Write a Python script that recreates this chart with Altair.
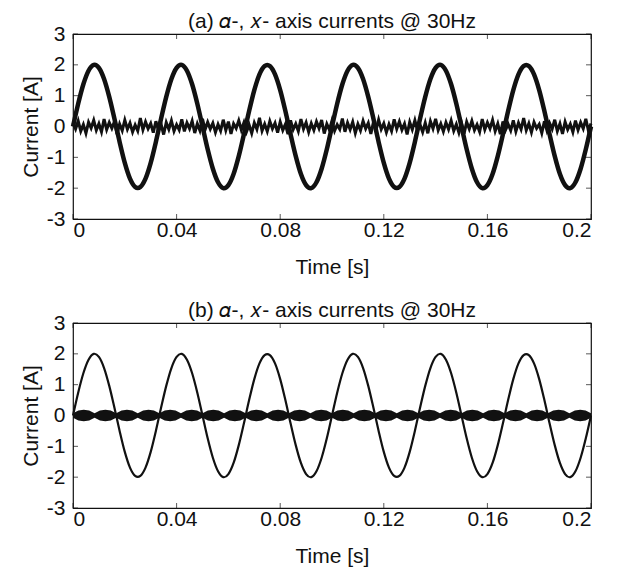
import altair as alt
import pandas as pd

# ---------------- data ----------------
TIME_STEP = 0.002          # sampling step of the alpha current (s)
NOISE_STEP = 0.001         # sampling step of the x-axis current in panel (a) (s)
ENV_STEP = 1.0 / 480.0     # sampling step of the envelope in panel (b) (s)

alpha_current = [
    0.00, 0.74, 1.37, 1.81, 2.00, 1.90, 1.54, 0.96, 0.25, -0.50,
    -1.18, -1.69, -1.96, -1.96, -1.69, -1.18, -0.50, 0.25, 0.96, 1.54,
    1.90, 2.00, 1.81, 1.37, 0.74, 0.00, -0.74, -1.37, -1.81, -2.00,
    -1.90, -1.54, -0.96, -0.25, 0.50, 1.18, 1.69, 1.96, 1.96, 1.69,
    1.18, 0.50, -0.25, -0.96, -1.54, -1.90, -2.00, -1.81, -1.37, -0.74,
    0.00, 0.74, 1.37, 1.81, 2.00, 1.90, 1.54, 0.96, 0.25, -0.50,
    -1.18, -1.69, -1.96, -1.96, -1.69, -1.18, -0.50, 0.25, 0.96, 1.54,
    1.90, 2.00, 1.81, 1.37, 0.74, 0.00, -0.74, -1.37, -1.81, -2.00,
    -1.90, -1.54, -0.96, -0.25, 0.50, 1.18, 1.69, 1.96, 1.96, 1.69,
    1.18, 0.50, -0.25, -0.96, -1.54, -1.90, -2.00, -1.81, -1.37, -0.74,
    0.00,
]

x_current_a = [
    0.12, -0.08, 0.18, -0.15, 0.06, -0.22, 0.14, -0.05, 0.20, -0.12,
    0.09, -0.17, 0.24, -0.10, 0.13, -0.06, 0.16, -0.25, 0.08, -0.13,
    0.21, -0.09, 0.11, -0.18, 0.05, -0.14, 0.27, -0.11, 0.15, -0.07,
    0.10, -0.20, 0.17, -0.12, 0.08, -0.26, 0.13, -0.09, 0.19, -0.15,
    0.06, -0.11, 0.23, -0.16, 0.12, -0.07, 0.18, -0.21, 0.09, -0.13,
    0.25, -0.10, 0.14, -0.08, 0.11, -0.19, 0.07, -0.14, 0.22, -0.12,
    0.16, -0.24, 0.09, -0.06, 0.19, -0.11, 0.13, -0.17, 0.05, -0.22,
    0.12, -0.09, 0.28, -0.14, 0.08, -0.16, 0.17, -0.07, 0.11, -0.20,
    0.15, -0.12, 0.07, -0.25, 0.20, -0.10, 0.09, -0.15, 0.24, -0.08,
    0.13, -0.18, 0.10, -0.12, 0.16, -0.06, 0.21, -0.23, 0.08, -0.11,
    0.19, -0.14, 0.06, -0.09, 0.26, -0.17, 0.12, -0.10, 0.15, -0.21,
    0.08, -0.13, 0.18, -0.07, 0.11, -0.24, 0.14, -0.12, 0.22, -0.09,
    0.10, -0.19, 0.07, -0.15, 0.23, -0.08, 0.16, -0.11, 0.09, -0.26,
    0.14, -0.10, 0.20, -0.13, 0.06, -0.18, 0.12, -0.22, 0.17, -0.07,
    0.25, -0.12, 0.09, -0.16, 0.13, -0.09, 0.19, -0.14, 0.07, -0.20,
    0.11, -0.23, 0.15, -0.08, 0.18, -0.12, 0.06, -0.17, 0.24, -0.10,
    0.13, -0.07, 0.21, -0.15, 0.09, -0.25, 0.16, -0.11, 0.08, -0.13,
    0.20, -0.16, 0.12, -0.09, 0.27, -0.12, 0.10, -0.19, 0.14, -0.06,
    0.07, -0.21, 0.17, -0.13, 0.11, -0.08, 0.22, -0.15, 0.09, -0.24,
    0.15, -0.10, 0.08, -0.18, 0.19, -0.11, 0.13, -0.07, 0.25, -0.14,
    0.10,
]

x_env_hi_b = [
    0.07, 0.16, 0.19, 0.16, 0.07, 0.16, 0.19, 0.16, 0.07, 0.16, 0.19, 0.16,
    0.07, 0.16, 0.19, 0.16, 0.07, 0.16, 0.19, 0.16, 0.07, 0.16, 0.19, 0.16,
    0.07, 0.16, 0.19, 0.16, 0.07, 0.16, 0.19, 0.16, 0.07, 0.16, 0.19, 0.16,
    0.07, 0.16, 0.19, 0.16, 0.07, 0.16, 0.19, 0.16, 0.07, 0.16, 0.19, 0.16,
    0.07, 0.16, 0.19, 0.16, 0.07, 0.16, 0.19, 0.16, 0.07, 0.16, 0.19, 0.16,
    0.07, 0.16, 0.19, 0.16, 0.07, 0.16, 0.19, 0.16, 0.07, 0.16, 0.19, 0.16,
    0.07, 0.16, 0.19, 0.16, 0.07, 0.16, 0.19, 0.16, 0.07, 0.16, 0.19, 0.16,
    0.07, 0.16, 0.19, 0.16, 0.07, 0.16, 0.19, 0.16, 0.07, 0.16, 0.19, 0.16,
    0.07,
]

x_env_lo_b = [
    -0.07, -0.16, -0.19, -0.16, -0.07, -0.16, -0.19, -0.16, -0.07, -0.16, -0.19, -0.16,
    -0.07, -0.16, -0.19, -0.16, -0.07, -0.16, -0.19, -0.16, -0.07, -0.16, -0.19, -0.16,
    -0.07, -0.16, -0.19, -0.16, -0.07, -0.16, -0.19, -0.16, -0.07, -0.16, -0.19, -0.16,
    -0.07, -0.16, -0.19, -0.16, -0.07, -0.16, -0.19, -0.16, -0.07, -0.16, -0.19, -0.16,
    -0.07, -0.16, -0.19, -0.16, -0.07, -0.16, -0.19, -0.16, -0.07, -0.16, -0.19, -0.16,
    -0.07, -0.16, -0.19, -0.16, -0.07, -0.16, -0.19, -0.16, -0.07, -0.16, -0.19, -0.16,
    -0.07, -0.16, -0.19, -0.16, -0.07, -0.16, -0.19, -0.16, -0.07, -0.16, -0.19, -0.16,
    -0.07, -0.16, -0.19, -0.16, -0.07, -0.16, -0.19, -0.16, -0.07, -0.16, -0.19, -0.16,
    -0.07,
]

x_tick_values = [0, 0.04, 0.08, 0.12, 0.16, 0.2]
y_tick_values = [-3, -2, -1, 0, 1, 2, 3]
X_DOMAIN = [0, 0.2]
Y_DOMAIN = [-3, 3]

panel_titles = [
    "(a) \U0001D6FC-, \U0001D465- axis currents @ 30Hz",
    "(b) \U0001D6FC-, \U0001D465- axis currents @ 30Hz",
]
x_title = "Time [s]"
y_title = "Current [A]"

# ---------------- tables ----------------
alpha_df = pd.DataFrame({
    "t": [i * TIME_STEP for i in range(len(alpha_current))],
    "i": alpha_current,
})
noise_a_df = pd.DataFrame({
    "t": [i * NOISE_STEP for i in range(len(x_current_a))],
    "i": x_current_a,
})
band_b_df = pd.DataFrame({
    "t": [i * ENV_STEP for i in range(len(x_env_hi_b))],
    "hi": x_env_hi_b,
    "lo": x_env_lo_b,
})
xt_df = pd.DataFrame({"v": x_tick_values})
yt_df = pd.DataFrame({"v": y_tick_values})

FONT = "Liberation Sans"
FS = 21
INK = "#111111"

xs = alt.Scale(domain=X_DOMAIN, nice=False, zero=False)
ys = alt.Scale(domain=Y_DOMAIN, nice=False, zero=False)

x_axis = alt.Axis(
    values=x_tick_values, title=x_title, labelExpr="datum.value + ''",
    ticks=False, tickSize=0, domain=False, grid=False,
    labelPadding=0, titlePadding=16,
)
y_axis = alt.Axis(
    values=y_tick_values, title=y_title, labelExpr="datum.value + ''",
    ticks=False, tickSize=0, domain=False, grid=False,
    labelPadding=8, titlePadding=5,
)


def tick_layers():
    bottom = alt.Chart(xt_df).mark_tick(
        orient="vertical", size=5, thickness=1, color=INK, yOffset=-2.5
    ).encode(x=alt.X("v:Q", scale=xs, axis=x_axis),
             y=alt.YDatum(Y_DOMAIN[0], scale=ys, axis=y_axis))
    top = alt.Chart(xt_df).mark_tick(
        orient="vertical", size=5, thickness=1, color=INK, yOffset=2.5
    ).encode(x=alt.X("v:Q", scale=xs, axis=x_axis),
             y=alt.YDatum(Y_DOMAIN[1], scale=ys, axis=y_axis))
    left = alt.Chart(yt_df).mark_tick(
        orient="horizontal", size=5, thickness=1, color=INK, xOffset=2.5
    ).encode(y=alt.Y("v:Q", scale=ys, axis=y_axis),
             x=alt.XDatum(X_DOMAIN[0], scale=xs, axis=x_axis))
    right = alt.Chart(yt_df).mark_tick(
        orient="horizontal", size=5, thickness=1, color=INK, xOffset=-2.5
    ).encode(y=alt.Y("v:Q", scale=ys, axis=y_axis),
             x=alt.XDatum(X_DOMAIN[1], scale=xs, axis=x_axis))
    return [bottom, top, left, right]


def alpha_line(width):
    return alt.Chart(alpha_df).mark_line(
        color=INK, strokeWidth=width, interpolate="cardinal"
    ).encode(
        x=alt.X("t:Q", scale=xs, axis=x_axis),
        y=alt.Y("i:Q", scale=ys, axis=y_axis),
    )


def titled(layers, title):
    return alt.layer(*layers).properties(
        width=518, height=185,
        title=alt.TitleParams(title, font=FONT, fontSize=FS, fontWeight="normal",
                              color=INK, offset=-9),
    )


noise_a = alt.Chart(noise_a_df).mark_line(color=INK, strokeWidth=3).encode(
    x=alt.X("t:Q", scale=xs, axis=x_axis),
    y=alt.Y("i:Q", scale=ys, axis=y_axis),
)
band_b = alt.Chart(band_b_df).mark_area(color=INK, interpolate="linear").encode(
    x=alt.X("t:Q", scale=xs, axis=x_axis),
    y=alt.Y("lo:Q", scale=ys, axis=y_axis),
    y2="hi:Q",
)

panel_a = titled([noise_a, alpha_line(4.5)] + tick_layers(), panel_titles[0])
panel_b = titled([band_b, alpha_line(2.2)] + tick_layers(), panel_titles[1])

chart = alt.vconcat(panel_a, panel_b, spacing=21).properties(
    padding={"left": 11, "top": 2, "right": 5, "bottom": 0},
    background="white",
).configure_view(
    stroke=INK, strokeWidth=1.2,
).configure_axis(
    labelFont=FONT, labelFontSize=FS, labelColor=INK,
    titleFont=FONT, titleFontSize=FS, titleColor=INK, titleFontWeight="normal",
)

chart.save("out.html", embed_options={"renderer": "svg", "actions": False})
